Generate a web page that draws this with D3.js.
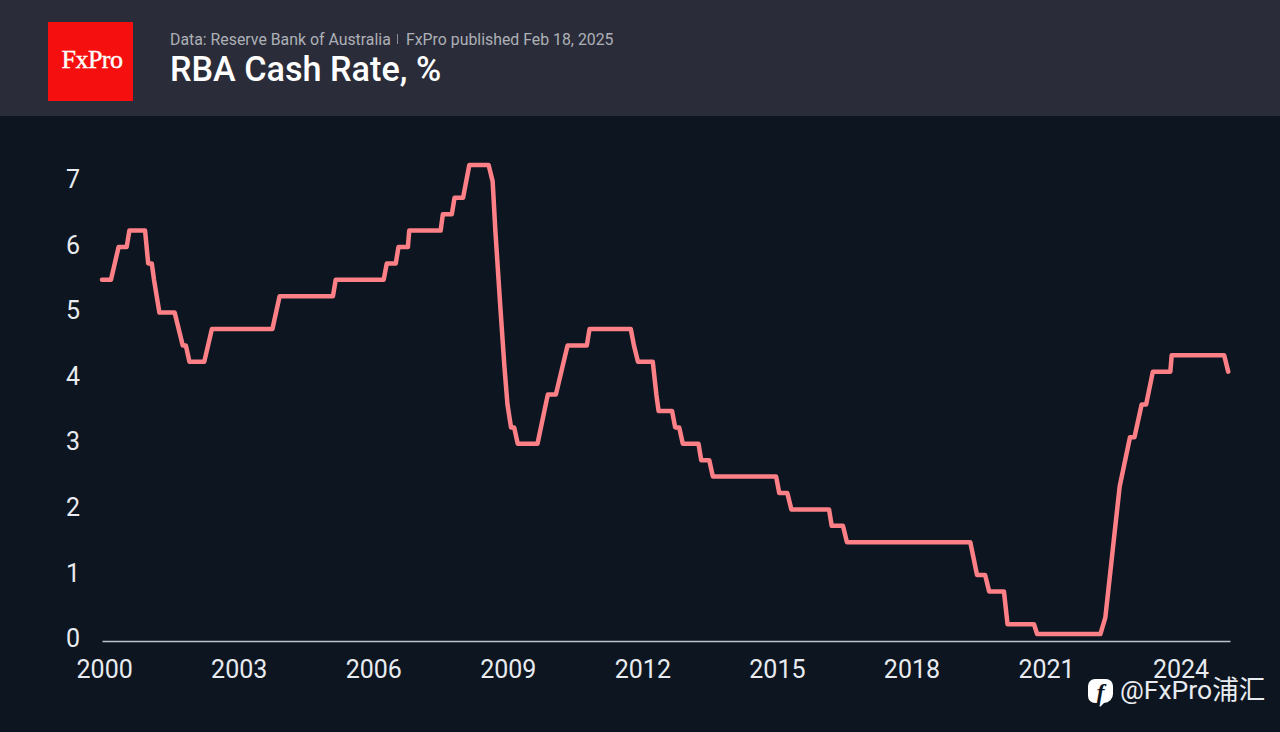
<!DOCTYPE html>
<html>
<head>
<meta charset="utf-8">
<script src="https://cdn.jsdelivr.net/npm/d3@7"></script>
<style>
	html, body { margin: 0; padding: 0; background: #0d1520; overflow: hidden; }
	text { font-family: Roboto, sans-serif; }
</style>
</head>
<body>
<div id="chart"></div>
<script>
const years = [
	1999.93, 2000.13, 2000.3, 2000.48, 2000.54, 2000.89, 2000.96, 2001.04, 2001.09, 2001.21,
	2001.55, 2001.73, 2001.8, 2001.88, 2002.21, 2002.38, 2003.73, 2003.89, 2005.08, 2005.14,
	2006.21, 2006.28, 2006.48, 2006.54, 2006.75, 2006.78, 2007.48, 2007.53, 2007.73, 2007.79,
	2007.98, 2008.12, 2008.55, 2008.64, 2008.7, 2008.81, 2008.9, 2008.97, 2009.05, 2009.12,
	2009.2, 2009.64, 2009.87, 2010.05, 2010.31, 2010.74, 2010.8, 2011.72, 2011.79, 2011.88,
	2012.21, 2012.29, 2012.34, 2012.64, 2012.71, 2012.8, 2012.88, 2013.23, 2013.29, 2013.47,
	2013.55, 2014.96, 2015.03, 2015.21, 2015.3, 2016.14, 2016.2, 2016.45, 2016.54, 2019.29,
	2019.44, 2019.62, 2019.71, 2020.04, 2020.12, 2020.71, 2020.78, 2022.19, 2022.3, 2022.62,
	2022.85, 2022.95, 2023.11, 2023.21, 2023.36, 2023.75, 2023.78, 2024.95, 2025.04,
];
const rates = [
	5.5, 5.5, 6, 6, 6.25, 6.25, 5.75, 5.75, 5.5, 5,
	5, 4.5, 4.5, 4.25, 4.25, 4.75, 4.75, 5.25, 5.25, 5.5,
	5.5, 5.75, 5.75, 6, 6, 6.25, 6.25, 6.5, 6.5, 6.75,
	6.75, 7.25, 7.25, 7, 6.25, 5.1, 4.2, 3.6, 3.25, 3.25,
	3, 3, 3.75, 3.75, 4.5, 4.5, 4.75, 4.75, 4.5, 4.25,
	4.25, 3.75, 3.5, 3.5, 3.25, 3.25, 3, 3, 2.75, 2.75,
	2.5, 2.5, 2.25, 2.25, 2, 2, 1.75, 1.75, 1.5, 1.5,
	1, 1, 0.75, 0.75, 0.25, 0.25, 0.1, 0.1, 0.35, 2.35,
	3.1, 3.1, 3.6, 3.6, 4.1, 4.1, 4.35, 4.35, 4.1,
];
const xTicks = [2000, 2003, 2006, 2009, 2012, 2015, 2018, 2021, 2024];
const yTicks = [0, 1, 2, 3, 4, 5, 6, 7];

const width = 1280;
const height = 732;
const headerHeight = 116;

const svg = d3.select("#chart").append("svg")
	.attr("width", width)
	.attr("height", height)
	.style("display", "block");

svg.append("rect").attr("width", width).attr("height", height).attr("fill", "#0d1520");
svg.append("rect").attr("width", width).attr("height", headerHeight).attr("fill", "#2a2d39");

// Logo
svg.append("rect")
	.attr("x", 48).attr("y", 22)
	.attr("width", 85).attr("height", 79)
	.attr("fill", "#f5100f");
svg.append("text")
	.attr("x", 92).attr("y", 68)
	.attr("text-anchor", "middle")
	.attr("fill", "#fff")
	.attr("stroke", "#fff")
	.attr("stroke-width", 0.4)
	.style("font-family", "'Liberation Serif', serif")
	.style("font-size", "26px")
	.style("letter-spacing", "-0.5px")
	.text("FxPro");

// Header text
svg.append("text")
	.attr("x", 170).attr("y", 45)
	.attr("fill", "#aeb0b7")
	.style("font-size", "15.85px")
	.text("Data: Reserve Bank of Australia");
svg.append("rect")
	.attr("x", 397).attr("y", 34)
	.attr("width", 1).attr("height", 10)
	.attr("fill", "#8b8e97");
svg.append("text")
	.attr("x", 406).attr("y", 45)
	.attr("fill", "#aeb0b7")
	.style("font-size", "15.85px")
	.text("FxPro published Feb 18, 2025");
svg.append("text")
	.attr("x", 170).attr("y", 81)
	.attr("fill", "#fff")
	.style("font-size", "34.2px")
	.style("font-weight", 500)
	.text("RBA Cash Rate, %");

// Scales
const x = d3.scaleLinear().domain([1999.93, 2025.08]).range([102, 1230]);
const y = d3.scaleLinear().domain([0, 7.25]).range([640.6, 165]);

// Axes
const xAxis = svg.append("g")
	.attr("transform", "translate(-1,641)")
	.call(d3.axisBottom(x).tickValues(xTicks).tickFormat(d3.format("d")).tickSize(0).tickPadding(19));
xAxis.select(".domain").attr("stroke", "#bcc3ce").attr("stroke-width", 1.5).attr("transform", "translate(1,0)");
xAxis.selectAll("text")
	.attr("fill", "#e8ebf0")
	.style("font-family", "Roboto, sans-serif")
	.style("font-size", "25px");

const yAxis = svg.append("g")
	.attr("transform", "translate(80,-2)")
	.call(d3.axisLeft(y).tickValues(yTicks).tickSize(0).tickPadding(0));
yAxis.select(".domain").remove();
yAxis.selectAll("text")
	.attr("fill", "#e8ebf0")
	.style("font-family", "Roboto, sans-serif")
	.style("font-size", "25px");

// Rate line
const line = d3.line()
	.x((d, i) => x(years[i]))
	.y((d) => y(d));

svg.append("path")
	.datum(rates)
	.attr("fill", "none")
	.attr("stroke", "#fd8087")
	.attr("stroke-width", 4.5)
	.attr("stroke-linejoin", "round")
	.attr("stroke-linecap", "round")
	.attr("d", line);

// Watermark
const mark = svg.append("g").attr("transform", "translate(1088,679)");
mark.append("path")
	.attr("d", "M7 0H18a7 7 0 0 1 7 7V15a9 9 0 0 1-9 9L12 28L11 24H7a7 7 0 0 1-7-7V7a7 7 0 0 1 7-7Z")
	.attr("fill", "#fff");
mark.append("text")
	.attr("x", 12.5).attr("y", 21)
	.attr("text-anchor", "middle")
	.attr("fill", "#0d1520")
	.style("font-family", "'Liberation Serif', serif")
	.style("font-style", "italic")
	.style("font-weight", 700)
	.style("font-size", "24px")
	.text("f");
svg.append("text")
	.attr("x", 1120).attr("y", 699)
	.attr("fill", "#e8ebf0")
	.style("font-family", "Roboto, 'Noto Sans CJK SC', sans-serif")
	.style("font-size", "26.5px")
	.text("@FxPro浦汇");
</script>
</body>
</html>
